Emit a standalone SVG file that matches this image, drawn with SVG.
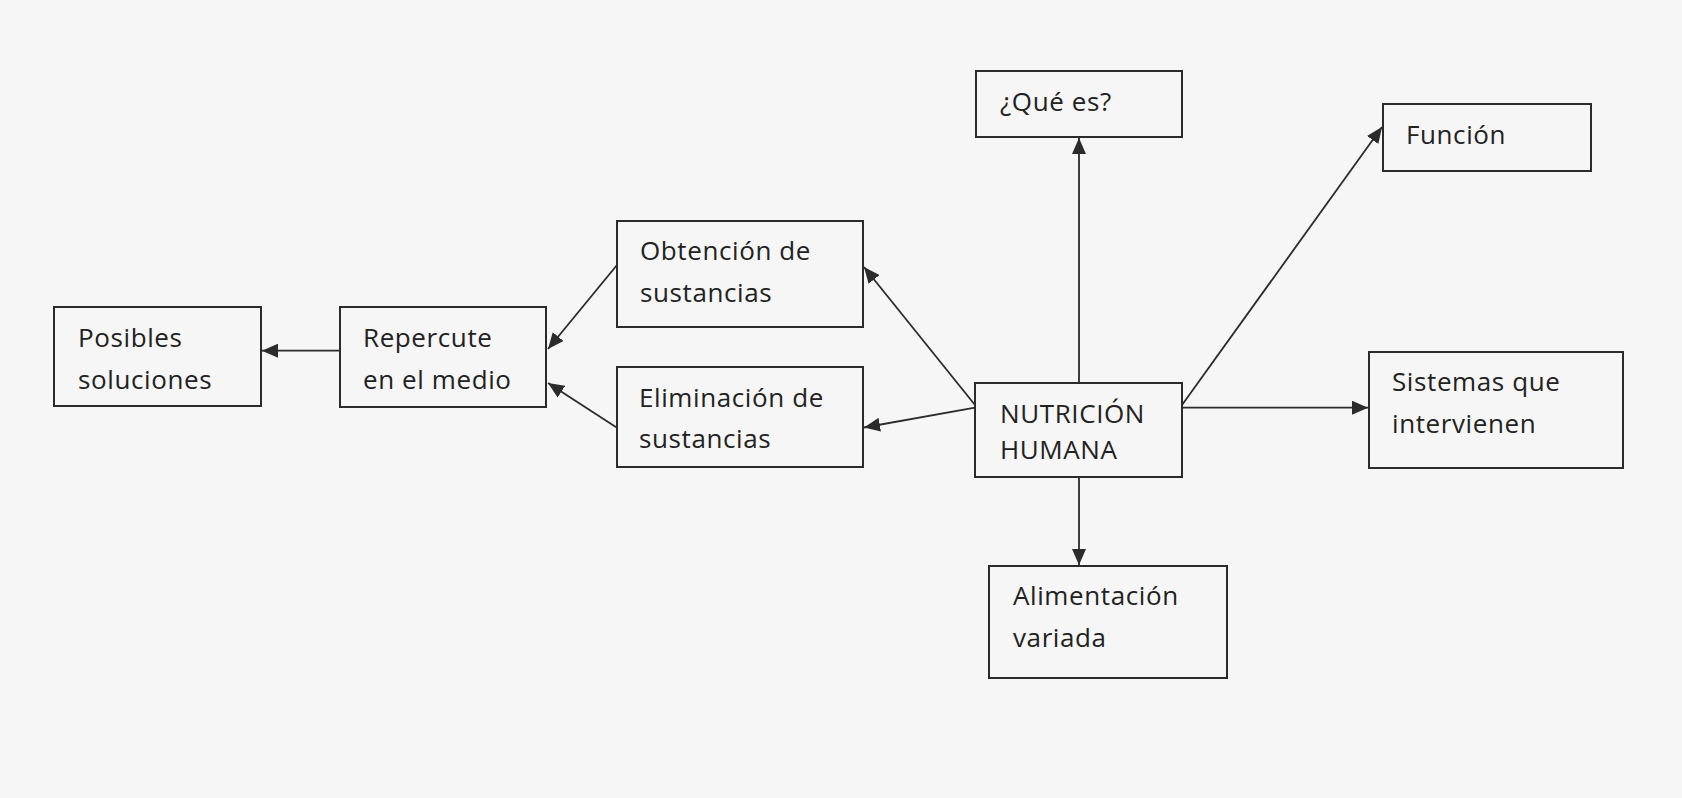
<svg xmlns="http://www.w3.org/2000/svg" width="1682" height="798" viewBox="0 0 1682 798">
<style>
.box{fill:#f6f6f6;stroke:#2b2b2b;stroke-width:2}
.t{font-family:"Open Sans","Noto Sans",sans-serif;font-size:26px;letter-spacing:0.6px;fill:#222}
.c{stroke:#2b2b2b;stroke-width:1.8;fill:none;marker-end:url(#ah)}
</style>
<defs>
<marker id="ah" markerUnits="userSpaceOnUse" markerWidth="17" markerHeight="14" refX="16" refY="7" orient="auto">
<path d="M0,0 L16,7 L0,14 z" fill="#2b2b2b"/>
</marker>
</defs>
<rect width="1682" height="798" fill="#f6f6f6"/>
<g id="connectors">
<path class="c" d="M340,350.7 L262,350.7"/>
<path class="c" d="M617,265 L548,349"/>
<path class="c" d="M617,427.7 L548,383"/>
<path class="c" d="M975,405 L864,267"/>
<path class="c" d="M975,407.7 L864,427.5"/>
<path class="c" d="M1079,383 L1079,138"/>
<path class="c" d="M1182,405 L1382,127"/>
<path class="c" d="M1182,407.7 L1368,407.7"/>
<path class="c" d="M1079,477.5 L1079,565"/>
</g>
<g id="posibles">
<rect class="box" x="54" y="307" width="207" height="99"/>
<text class="t" x="78" y="346.7">Posibles</text>
<text class="t" x="78" y="389">soluciones</text>
</g>
<g id="repercute">
<rect class="box" x="340" y="307" width="206" height="100"/>
<text class="t" x="363" y="346.7">Repercute</text>
<text class="t" x="363" y="389">en el medio</text>
</g>
<g id="obtencion">
<rect class="box" x="617" y="221" width="246" height="106"/>
<text class="t" x="640" y="260">Obtención de</text>
<text class="t" x="640" y="301.7">sustancias</text>
</g>
<g id="eliminacion">
<rect class="box" x="617" y="367" width="246" height="100"/>
<text class="t" x="639" y="406.7">Eliminación de</text>
<text class="t" x="639" y="448.3">sustancias</text>
</g>
<g id="que-es">
<rect class="box" x="976" y="71" width="206" height="66"/>
<text class="t" x="1000" y="111">¿Qué es?</text>
</g>
<g id="funcion">
<rect class="box" x="1383" y="104" width="208" height="67"/>
<text class="t" x="1406" y="144">Función</text>
</g>
<g id="sistemas">
<rect class="box" x="1369" y="352" width="254" height="116"/>
<text class="t" x="1392" y="390.7">Sistemas que</text>
<text class="t" x="1392" y="433.3">intervienen</text>
</g>
<g id="nutricion">
<rect class="box" x="975" y="383" width="207" height="94"/>
<text class="t" x="1000" y="422.7">NUTRICIÓN</text>
<text class="t" x="1000" y="459">HUMANA</text>
</g>
<g id="alimentacion">
<rect class="box" x="989" y="566" width="238" height="112"/>
<text class="t" x="1013" y="605">Alimentación</text>
<text class="t" x="1013" y="646.7">variada</text>
</g>
</svg>
